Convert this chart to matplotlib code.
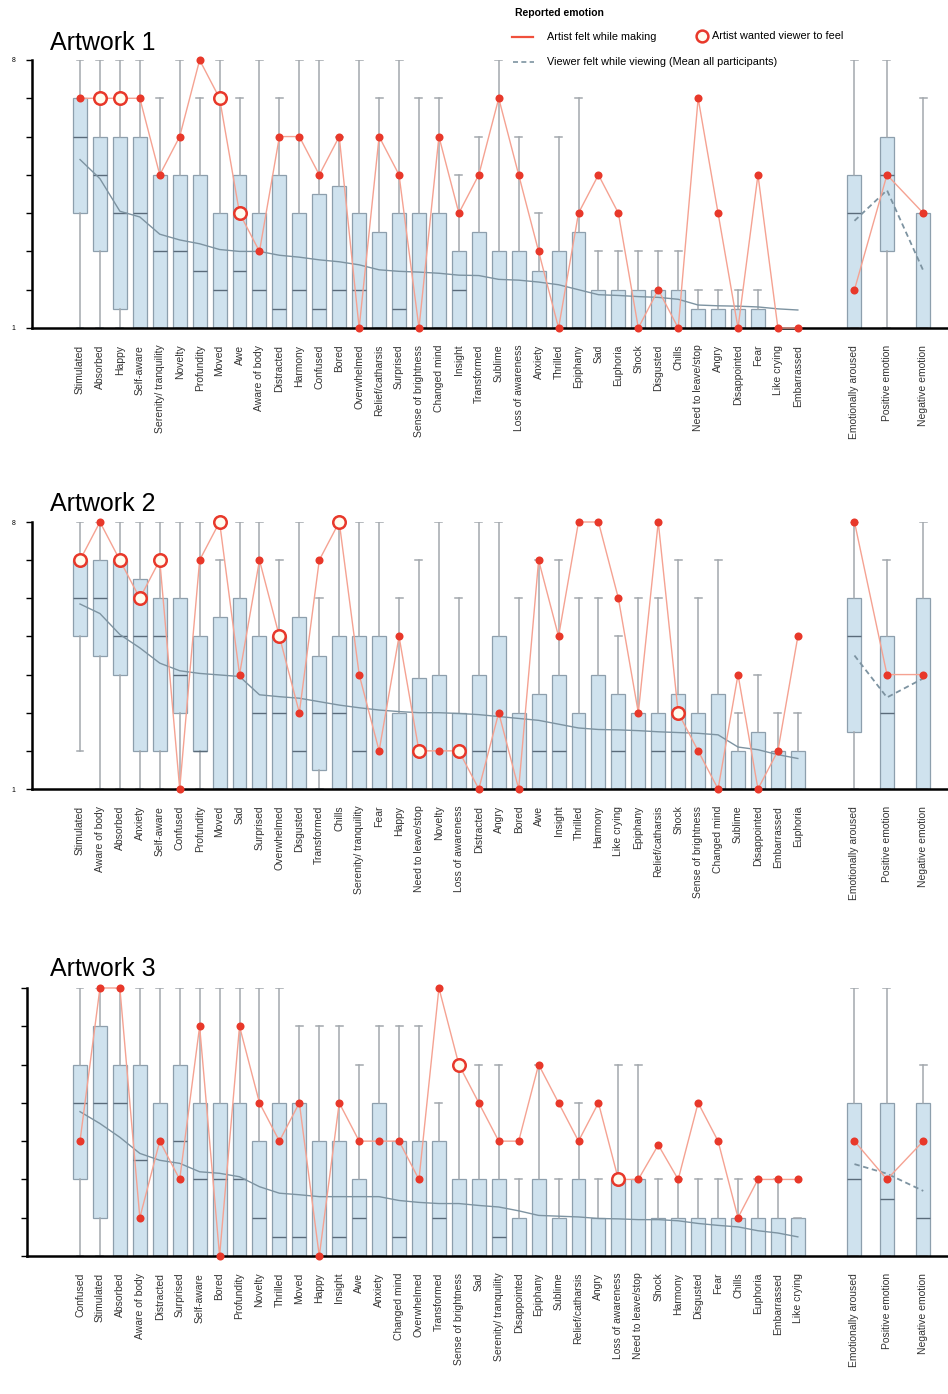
import numpy as np
import matplotlib
matplotlib.use("Agg")
import matplotlib.pyplot as plt
from matplotlib.lines import Line2D

plt.rcParams['font.family'] = ['Liberation Sans', 'DejaVu Sans']

# ---------------- data ----------------
summary_labels = ["Emotionally aroused", "Positive emotion", "Negative emotion"]

# Artwork 1
a1_labels = ["Stimulated", "Absorbed", "Happy", "Self-aware", "Serenity/ tranquility", "Novelty",
             "Profundity", "Moved", "Awe", "Aware of body", "Distracted", "Harmony", "Confused",
             "Bored", "Overwhelmed", "Relief/catharsis", "Surprised", "Sense of brightness",
             "Changed mind", "Insight", "Transformed", "Sublime", "Loss of awareness", "Anxiety",
             "Thrilled", "Epiphany", "Sad", "Euphoria", "Shock", "Disgusted", "Chills",
             "Need to leave/stop", "Angry", "Disappointed", "Fear", "Like crying", "Embarrassed"]
a1_lo = [1]*37
a1_q1 = [4, 3, 1.5, 1, 1, 1, 1, 1, 1, 1, 1, 1, 1, 1, 1, 1, 1, 1, 1, 1, 1, 1, 1, 1, 1, 1, 1, 1, 1, 1, 1, 1, 1, 1, 1, 1, 1]
a1_med = [6, 5, 4, 4, 3, 3, 2.5, 2, 2.5, 2, 1.5, 2, 1.5, 2, 2, 1, 1.5, 1, 1, 2, 1, 1, 1, 1, 1, 1, 1, 1, 1, 1, 1, 1, 1, 1, 1, 1, 1]
a1_q3 = [7, 6, 6, 6, 5, 5, 5, 4, 5, 4, 5, 4, 4.5, 4.7, 4, 3.5, 4, 4, 4, 3, 3.5, 3, 3, 2.5, 3, 3.5, 2, 2, 2, 2, 2, 1.5, 1.5, 1.5, 1.5, 1, 1]
a1_hi = [8, 8, 8, 8, 7, 8, 7, 8, 7, 8, 7, 8, 8, 6, 8, 7, 8, 7, 7, 5, 6, 8, 6, 4, 6, 7, 3, 3, 3, 3, 3, 2, 2, 2, 2, 1, 1]
a1_artist = [7, 7, 7, 7, 5, 6, 8, 7, 4, 3, 6, 6, 5, 6, 1, 6, 5, 1, 6, 4, 5, 7, 5, 3, 1, 4, 5, 4, 1, 2, 1, 7, 4, 1, 5, 1, 1]
a1_wanted = [0, 1, 1, 0, 0, 0, 0, 1, 1, 0, 0, 0, 0, 0, 0, 0, 0, 0, 0, 0, 0, 0, 0, 0, 0, 0, 0, 0, 0, 0, 0, 0, 0, 0, 0, 0, 0]
a1_mean = [5.4, 4.9, 4.05, 3.9, 3.45, 3.3, 3.2, 3.05, 3.0, 3.0, 2.9, 2.85, 2.78, 2.73, 2.65, 2.52,
           2.48, 2.46, 2.43, 2.38, 2.37, 2.27, 2.25, 2.2, 2.13, 2.0, 1.87, 1.85, 1.82, 1.8, 1.75,
           1.6, 1.58, 1.57, 1.55, 1.5, 1.47]
a1_sum_lo = [1, 1, 1]
a1_sum_q1 = [1, 3, 1]
a1_sum_med = [4, 5, 1]
a1_sum_q3 = [5, 6, 4]
a1_sum_hi = [8, 8, 7]
a1_sum_artist = [2, 5, 4]
a1_sum_mean = [3.8, 4.6, 2.5]

# Artwork 2
a2_labels = ["Stimulated", "Aware of body", "Absorbed", "Anxiety", "Self-aware", "Confused",
             "Profundity", "Moved", "Sad", "Surprised", "Overwhelmed", "Disgusted", "Transformed",
             "Chills", "Serenity/ tranquility", "Fear", "Happy", "Need to leave/stop", "Novelty",
             "Loss of awareness", "Distracted", "Angry", "Bored", "Awe", "Insight", "Thrilled",
             "Harmony", "Like crying", "Epiphany", "Relief/catharsis", "Shock",
             "Sense of brightness", "Changed mind", "Sublime", "Disappointed", "Embarrassed",
             "Euphoria"]
a2_lo = [2] + [1]*36
a2_q1 = [5, 4.5, 4, 2, 2, 3, 2, 1, 1, 1, 1, 1, 1.5, 1, 1, 1, 1, 1, 1, 1, 1, 1, 1, 1, 1, 1, 1, 1, 1, 1, 1, 1, 1, 1, 1, 1, 1]
a2_med = [6, 6, 5, 5, 5, 4, 2, 1, 1, 3, 3, 2, 3, 3, 2, 1, 1, 1, 1, 1, 2, 2, 1, 2, 2, 1, 1, 2, 1, 2, 2, 1, 1, 1, 1, 1, 1]
a2_q3 = [7, 7, 7, 6.5, 6, 6, 5, 5.5, 6, 5, 5, 5.5, 4.5, 5, 5, 5, 3, 3.9, 4, 3, 4, 5, 3, 3.5, 4, 3, 4, 3.5, 3, 3, 3.5, 3, 3.5, 2, 2.5, 2, 2]
a2_hi = [8, 8, 8, 8, 8, 8, 8, 7, 8, 8, 7, 8, 6, 8, 8, 8, 6, 7, 8, 6, 8, 8, 6, 7, 7, 6, 6, 5, 6, 6, 7, 6, 7, 3, 4, 3, 3]
a2_artist = [7, 8, 7, 6, 7, 1, 7, 8, 4, 7, 5, 3, 7, 8, 4, 2, 5, 2, 2, 2, 1, 3, 1, 7, 5, 8, 8, 6, 3, 8, 3, 2, 1, 4, 1, 2, 5]
a2_wanted = [1, 0, 1, 1, 1, 0, 0, 1, 0, 0, 1, 0, 0, 1, 0, 0, 0, 1, 0, 1, 0, 0, 0, 0, 0, 0, 0, 0, 0, 0, 1, 0, 0, 0, 0, 0, 0]
a2_mean = [5.85, 5.6, 5.05, 4.7, 4.3, 4.1, 4.03, 3.99, 3.95, 3.47, 3.42, 3.38, 3.29, 3.2, 3.13, 3.07,
           3.03, 3.0, 3.0, 2.98, 2.95, 2.9, 2.85, 2.8, 2.7, 2.6, 2.56, 2.55, 2.53, 2.5, 2.48, 2.46,
           2.42, 2.1, 2.03, 1.9, 1.8]
a2_sum_lo = [1, 1, 1]
a2_sum_q1 = [2.5, 1, 1]
a2_sum_med = [5, 3, 1]
a2_sum_q3 = [6, 5, 6]
a2_sum_hi = [8, 7, 8]
a2_sum_artist = [8, 4, 4]
a2_sum_mean = [4.5, 3.4, 3.9]

# Artwork 3
a3_labels = ["Confused", "Stimulated", "Absorbed", "Aware of body", "Distracted", "Surprised",
             "Self-aware", "Bored", "Profundity", "Novelty", "Thrilled", "Moved", "Happy", "Insight",
             "Awe", "Anxiety", "Changed mind", "Overwhelmed", "Transformed", "Sense of brightness",
             "Sad", "Serenity/ tranquility", "Disappointed", "Epiphany", "Sublime",
             "Relief/catharsis", "Angry", "Loss of awareness", "Need to leave/stop", "Shock",
             "Harmony", "Disgusted", "Fear", "Chills", "Euphoria", "Embarrassed", "Like crying"]
a3_lo = [1]*37
a3_q1 = [3, 2] + [1]*35
a3_med = [5, 5, 5, 3.5, 1, 4, 3, 3, 3, 2, 1.5, 1.5, 1, 1.5, 2, 1, 1.5, 1, 2, 1, 1, 1.5, 1, 1, 1, 1, 1, 1, 1, 1, 1, 1, 1, 1, 1, 1, 1]
a3_q3 = [6, 7, 6, 6, 5, 6, 5, 5, 5, 4, 5, 5, 4, 4, 3, 5, 4, 4, 4, 3, 3, 3, 2, 3, 2, 3, 2, 3, 3, 2, 2, 2, 2, 2, 2, 2, 2]
a3_hi = [8, 8, 8, 8, 8, 8, 8, 8, 8, 8, 8, 7, 7, 7, 6, 7, 7, 7, 5, 6, 6, 6, 3, 6, 3, 5, 3, 6, 6, 3, 3, 3, 3, 3, 3, 3, 2]
a3_artist = [4, 8, 8, 2, 4, 3, 7, 1, 7, 5, 4, 5, 1, 5, 4, 4, 4, 3, 8, 6, 5, 4, 4, 6, 5, 4, 5, 3, 3, 3.9, 3, 5, 4, 2, 3, 3, 3]
a3_wanted = [0]*19 + [1] + [0]*7 + [1] + [0]*9
a3_mean = [4.77, 4.46, 4.1, 3.68, 3.5, 3.42, 3.2, 3.16, 3.07, 2.81, 2.64, 2.6, 2.55, 2.55, 2.55, 2.55,
           2.45, 2.4, 2.37, 2.37, 2.32, 2.28, 2.18, 2.06, 2.04, 2.02, 1.98, 1.97, 1.95, 1.95, 1.92,
           1.85, 1.8, 1.76, 1.66, 1.6, 1.5]
a3_sum_lo = [1, 1, 1]
a3_sum_q1 = [1, 1, 1]
a3_sum_med = [3, 2.5, 2]
a3_sum_q3 = [5, 5, 5]
a3_sum_hi = [8, 8, 6]
a3_sum_artist = [4, 3, 4]
a3_sum_mean = [3.4, 3.15, 2.7]

summary_pos = [38.84, 40.47, 42.29]

# ---------------- style ----------------
W, H = 948, 1394
BOX_FACE = '#cfe2ee'
BOX_EDGE = '#8d9fad'
WHISK = '#a3a8ad'
MED = '#5a6b7a'
RED = '#e8382a'
RED_LINE = '#f5a292'
MEAN = '#7d93a1'
SPACING = 19.94   # pixels per category
X0_PIX = 80       # pixel of first category

fig = plt.figure(figsize=(W / 100, H / 100), dpi=100)

panels = [
    dict(title="Artwork 1", labels=a1_labels, lo=a1_lo, q1=a1_q1, med=a1_med, q3=a1_q3, hi=a1_hi,
         artist=a1_artist, wanted=a1_wanted, mean=a1_mean,
         s_lo=a1_sum_lo, s_q1=a1_sum_q1, s_med=a1_sum_med, s_q3=a1_sum_q3, s_hi=a1_sum_hi,
         s_artist=a1_sum_artist, s_mean=a1_sum_mean,
         left=32, top=60, bottom=328, base=50, ylab=True),
    dict(title="Artwork 2", labels=a2_labels, lo=a2_lo, q1=a2_q1, med=a2_med, q3=a2_q3, hi=a2_hi,
         artist=a2_artist, wanted=a2_wanted, mean=a2_mean,
         s_lo=a2_sum_lo, s_q1=a2_sum_q1, s_med=a2_sum_med, s_q3=a2_sum_q3, s_hi=a2_sum_hi,
         s_artist=a2_sum_artist, s_mean=a2_sum_mean,
         left=32, top=522, bottom=789, base=511, ylab=True),
    dict(title="Artwork 3", labels=a3_labels, lo=a3_lo, q1=a3_q1, med=a3_med, q3=a3_q3, hi=a3_hi,
         artist=a3_artist, wanted=a3_wanted, mean=a3_mean,
         s_lo=a3_sum_lo, s_q1=a3_sum_q1, s_med=a3_sum_med, s_q3=a3_sum_q3, s_hi=a3_sum_hi,
         s_artist=a3_sum_artist, s_mean=a3_sum_mean,
         left=27, top=988, bottom=1256, base=976, ylab=False),
]

for p in panels:
    ax = fig.add_axes([p['left'] / W, 1 - p['bottom'] / H, (W - p['left']) / W,
                       (p['bottom'] - p['top']) / H])
    n = len(p['labels'])
    x_em = np.arange(n, dtype=float)
    x_sum = np.array(summary_pos)
    stats = []
    for lo, q1, md, q3, hi in zip(p['lo'] + p['s_lo'], p['q1'] + p['s_q1'], p['med'] + p['s_med'],
                                  p['q3'] + p['s_q3'], p['hi'] + p['s_hi']):
        stats.append(dict(whislo=lo, q1=q1, med=md, q3=q3, whishi=hi, fliers=[]))
    ax.bxp(stats, positions=np.concatenate([x_em, x_sum]), widths=0.7, capwidths=0.35,
           patch_artist=True, showfliers=False, manage_ticks=False,
           boxprops=dict(facecolor=BOX_FACE, edgecolor=BOX_EDGE, linewidth=0.9),
           whiskerprops=dict(color=WHISK, linewidth=1.1),
           capprops=dict(color=WHISK, linewidth=1.1),
           medianprops=dict(color=MED, linewidth=1.0))

    # viewer mean
    ax.plot(x_em, p['mean'], color=MEAN, lw=1.0, zorder=3)
    ax.plot(x_sum, p['s_mean'], color=MEAN, lw=1.3, ls=(0, (3, 2)), zorder=3)

    # artist line + points
    art = np.array(p['artist'], dtype=float)
    w = np.array(p['wanted'], dtype=bool)
    ax.plot(x_em, art, color=RED_LINE, lw=1.0, zorder=4, clip_on=False)
    ax.plot(x_sum, p['s_artist'], color=RED_LINE, lw=1.0, zorder=4, clip_on=False)
    ax.plot(x_em[~w], art[~w], 'o', ms=5.8, color=RED, mec='none', zorder=5, clip_on=False)
    ax.plot(x_sum, p['s_artist'], 'o', ms=5.8, color=RED, mec='none', zorder=5, clip_on=False)
    ax.plot(x_em[w], art[w], 'o', ms=9, mfc='#fffcef', mec=RED, mew=1.8, zorder=6, clip_on=False)

    ax.set_xlim((p['left'] - X0_PIX) / SPACING, (W - X0_PIX) / SPACING)
    ax.set_ylim(1, 8)
    ax.set_xticks(np.concatenate([x_em, x_sum]))
    ax.set_xticklabels(p['labels'] + summary_labels, rotation=90, fontsize=7.5, color='#333333',
                       va='top', ha='center')
    ax.tick_params(axis='x', length=0, pad=12)
    ax.set_yticks(range(1, 9))
    if p['ylab']:
        ax.set_yticklabels(['1', '', '', '', '', '', '', '8'], fontsize=5)
    else:
        ax.set_yticklabels([''] * 8)
    ax.tick_params(axis='y', length=4, width=1.0, direction='out', pad=8)
    for s in ['top', 'right']:
        ax.spines[s].set_visible(False)
    ax.spines['bottom'].set_linewidth(1.8)
    ax.spines['left'].set_linewidth(1.8)
    ax.set_facecolor('none')

    fig.text(50 / W, 1 - p['base'] / H, p['title'], fontsize=18, va='baseline', ha='left')

# ---------------- legend (figure coordinates) ----------------
def fx(px):
    return px / W

def fy(py):
    return 1 - py / H

fig.text(fx(515), fy(13), "Reported emotion", fontsize=7.5, fontweight='bold', va='center', ha='left')
fig.add_artist(Line2D([fx(512), fx(533)], [fy(37), fy(37)], color='#f0503c', lw=1.6))
fig.text(fx(547), fy(37), "Artist felt while making", fontsize=7.8, va='center', ha='left')
fig.add_artist(Line2D([fx(702)], [fy(36)], marker='o', ms=8.5, mfc='#fffcef', mec=RED, mew=1.8))
fig.text(fx(712), fy(36), "Artist wanted viewer to feel", fontsize=7.8, va='center', ha='left')
fig.add_artist(Line2D([fx(513), fx(534)], [fy(62), fy(62)], color=MEAN, lw=1.2, ls=(0, (3, 2))))
fig.text(fx(547), fy(62), "Viewer felt while viewing (Mean all participants)", fontsize=7.8,
         va='center', ha='left')

fig.savefig("out.png", dpi=100, facecolor='white')
